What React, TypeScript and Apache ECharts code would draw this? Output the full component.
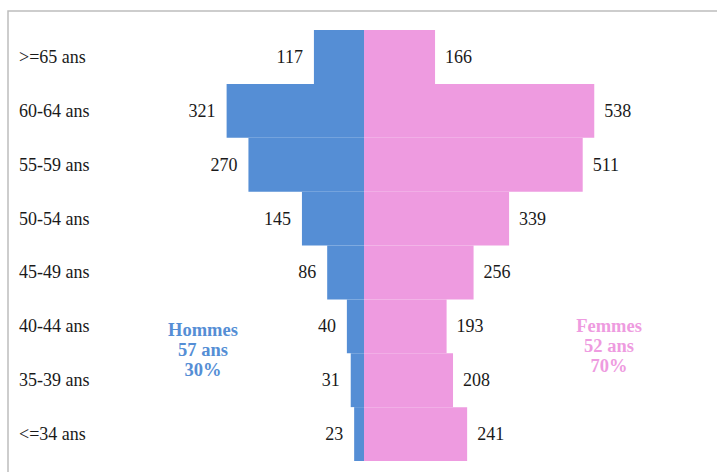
import React, { useEffect, useRef } from "react";
import * as echarts from "echarts";

const categories = [">=65 ans", "60-64 ans", "55-59 ans", "50-54 ans", "45-49 ans", "40-44 ans", "35-39 ans", "<=34 ans"];
const hommes = [117, 321, 270, 145, 86, 40, 31, 23];
const femmes = [166, 538, 511, 339, 256, 193, 208, 241];
const hommesNote = ["Hommes", "57 ans", "30%"];
const femmesNote = ["Femmes", "52 ans", "70%"];

const FONT = "'Liberation Serif', 'Times New Roman', serif";
const BLUE = "#558ED5";
const PINK = "#EE9BE0";

export default function App() {
  const ref = useRef<HTMLDivElement>(null);
  useEffect(() => {
    if (!ref.current) return;
    const chart = echarts.init(ref.current, null, { renderer: "svg" });
    chart.setOption({
      animation: false,
      backgroundColor: "#ffffff",
      textStyle: { fontFamily: FONT },
      grid: { left: 43, right: 32, top: 30, bottom: 11, containLabel: false },
      xAxis: {
        type: "value",
        min: -750,
        max: 750,
        show: false,
      },
      yAxis: {
        type: "category",
        data: categories,
        inverse: true,
        axisLine: { show: false, onZero: false },
        axisTick: { show: false },
        axisLabel: {
          align: "left",
          margin: 24,
          color: "#1a1a1a",
          fontFamily: FONT,
          fontSize: 18,
        },
      },
      series: [
        {
          name: "Hommes",
          type: "bar",
          stack: "total",
          barCategoryGap: 0,
          data: hommes.map((v) => -v),
          itemStyle: { color: BLUE },
          label: {
            show: true,
            position: "left",
            distance: 11,
            color: "#1a1a1a",
            fontFamily: FONT,
            fontSize: 18,
            formatter: (p: any) => String(Math.abs(p.value)),
          },
        },
        {
          name: "Femmes",
          type: "bar",
          stack: "total",
          barCategoryGap: 0,
          data: femmes,
          itemStyle: { color: PINK },
          label: {
            show: true,
            position: "right",
            distance: 10,
            color: "#1a1a1a",
            fontFamily: FONT,
            fontSize: 18,
          },
        },
      ],
      graphic: [
        {
          type: "polyline",
          shape: { points: [[8, 472], [8, 11], [717, 11]] },
          style: { stroke: "#BDBDBD", lineWidth: 1.5, fill: "none" },
          silent: true,
        },
        {
          type: "text",
          x: 203,
          y: 320,
          style: {
            text: hommesNote.join("\n"),
            fill: BLUE,
            font: `bold 18.5px ${FONT}`,
            lineHeight: 20,
            textAlign: "center",
            textVerticalAlign: "top",
          },
        },
        {
          type: "text",
          x: 609,
          y: 316,
          style: {
            text: femmesNote.join("\n"),
            fill: PINK,
            font: `bold 18.5px ${FONT}`,
            lineHeight: 20,
            textAlign: "center",
            textVerticalAlign: "top",
          },
        },
      ],
    });
    return () => chart.dispose();
  }, []);
  return (
    <div
      ref={ref}
      style={{ position: "fixed", left: 0, top: 0, width: 717, height: 472 }}
    />
  );
}
